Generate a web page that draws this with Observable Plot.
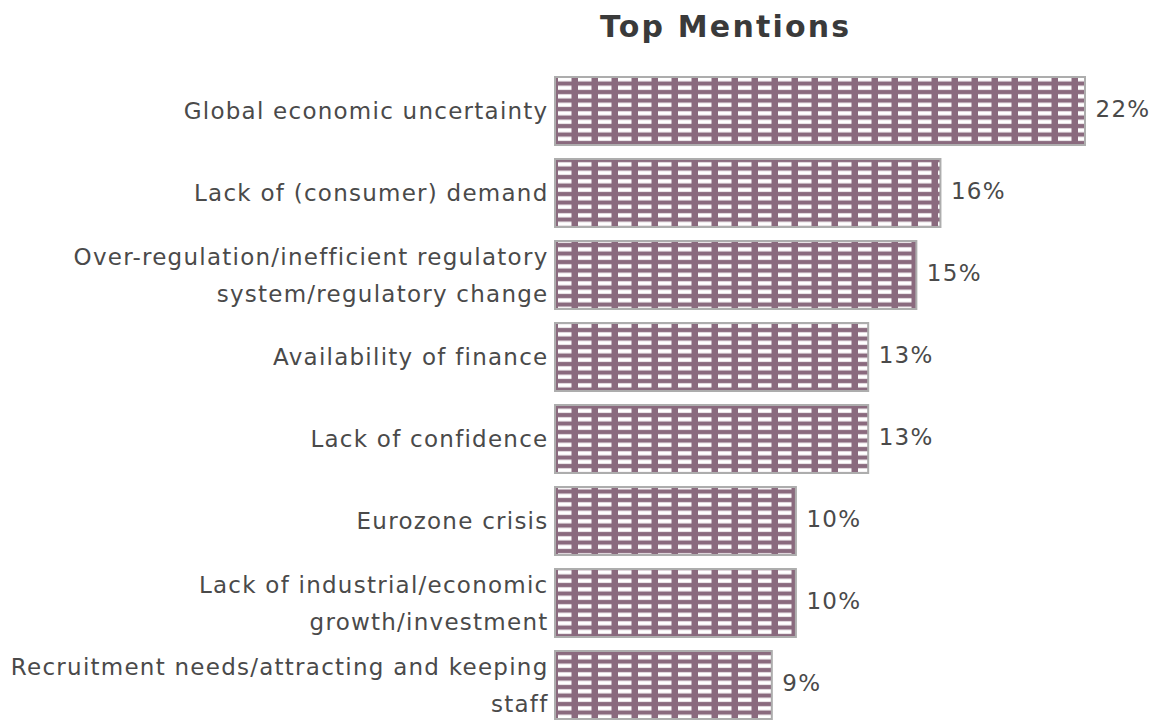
<!DOCTYPE html>
<html>
<head>
<meta charset="utf-8">
<script src="https://cdn.jsdelivr.net/npm/d3@7"></script>
<script src="https://cdn.jsdelivr.net/npm/@observablehq/plot@0.6"></script>
<style>
  html, body { margin: 0; padding: 0; background: #fff; overflow: hidden; }
  #wrap { position: relative; width: 1157px; height: 721px; }
  #title { position: absolute; left: 600px; top: 9px; font-family: "DejaVu Sans", sans-serif; font-weight: bold; font-size: 30px; letter-spacing: 2.2px; color: #3a3a3a; z-index: 2; }
  svg { position: absolute; left: 0; top: 0; }
  svg text { letter-spacing: 1.25px; }
</style>
</head>
<body>
<div id="wrap"><div id="title">Top Mentions</div></div>
<script>
const categories = [
  "Global economic uncertainty",
  "Lack of (consumer) demand",
  "Over-regulation/inefficient regulatory\nsystem/regulatory change",
  "Availability of finance",
  "Lack of confidence",
  "Eurozone crisis",
  "Lack of industrial/economic\ngrowth/investment",
  "Recruitment needs/attracting and keeping\nstaff"
];
const values = [22, 16, 15, 13, 13, 10, 10, 9];
const valueLabels = ["22%", "16%", "15%", "13%", "13%", "10%", "10%", "9%"];

const data = categories.map((c, i) => ({category: c, value: values[i], label: valueLabels[i]}));

const chart = Plot.plot({
  width: 1157,
  height: 740,
  marginLeft: 555,
  marginRight: 72,
  marginTop: 60,
  marginBottom: 4,
  style: {fontFamily: "DejaVu Sans, sans-serif", background: "transparent"},
  x: {domain: [0, 22], axis: null},
  y: {domain: categories, padding: 0.17, label: null},
  marks: [
    Plot.barX(data, {y: "category", x: "value", fill: "url(#brick)", stroke: "#adadad", strokeWidth: 2}),
    Plot.axisY({tickSize: 0, tickPadding: 7, dy: -4, fontSize: 23, lineHeight: 1.6, fill: "#4a4a4a", label: null}),
    Plot.text(data, {y: "category", x: "value", text: "label", textAnchor: "start", dx: 10, dy: -2, fontSize: 23, fill: "#4a4a4a"})
  ]
});

const ns = "http://www.w3.org/2000/svg";
const defs = document.createElementNS(ns, "defs");
const pat = document.createElementNS(ns, "pattern");
pat.setAttribute("id", "brick");
pat.setAttribute("patternUnits", "userSpaceOnUse");
pat.setAttribute("x", "555");
pat.setAttribute("y", "75");
pat.setAttribute("width", "20");
pat.setAttribute("height", "8.5");
const bg = document.createElementNS(ns, "rect");
bg.setAttribute("width", "20"); bg.setAttribute("height", "8.5"); bg.setAttribute("fill", "#8a6a7e");
const w = document.createElementNS(ns, "rect");
w.setAttribute("x", "3"); w.setAttribute("y", "2.2"); w.setAttribute("width", "13.5"); w.setAttribute("height", "4.2"); w.setAttribute("fill", "#ffffff");
pat.appendChild(bg); pat.appendChild(w);
defs.appendChild(pat);
chart.insertBefore(defs, chart.firstChild);
document.getElementById("wrap").appendChild(chart);
</script>
</body>
</html>
